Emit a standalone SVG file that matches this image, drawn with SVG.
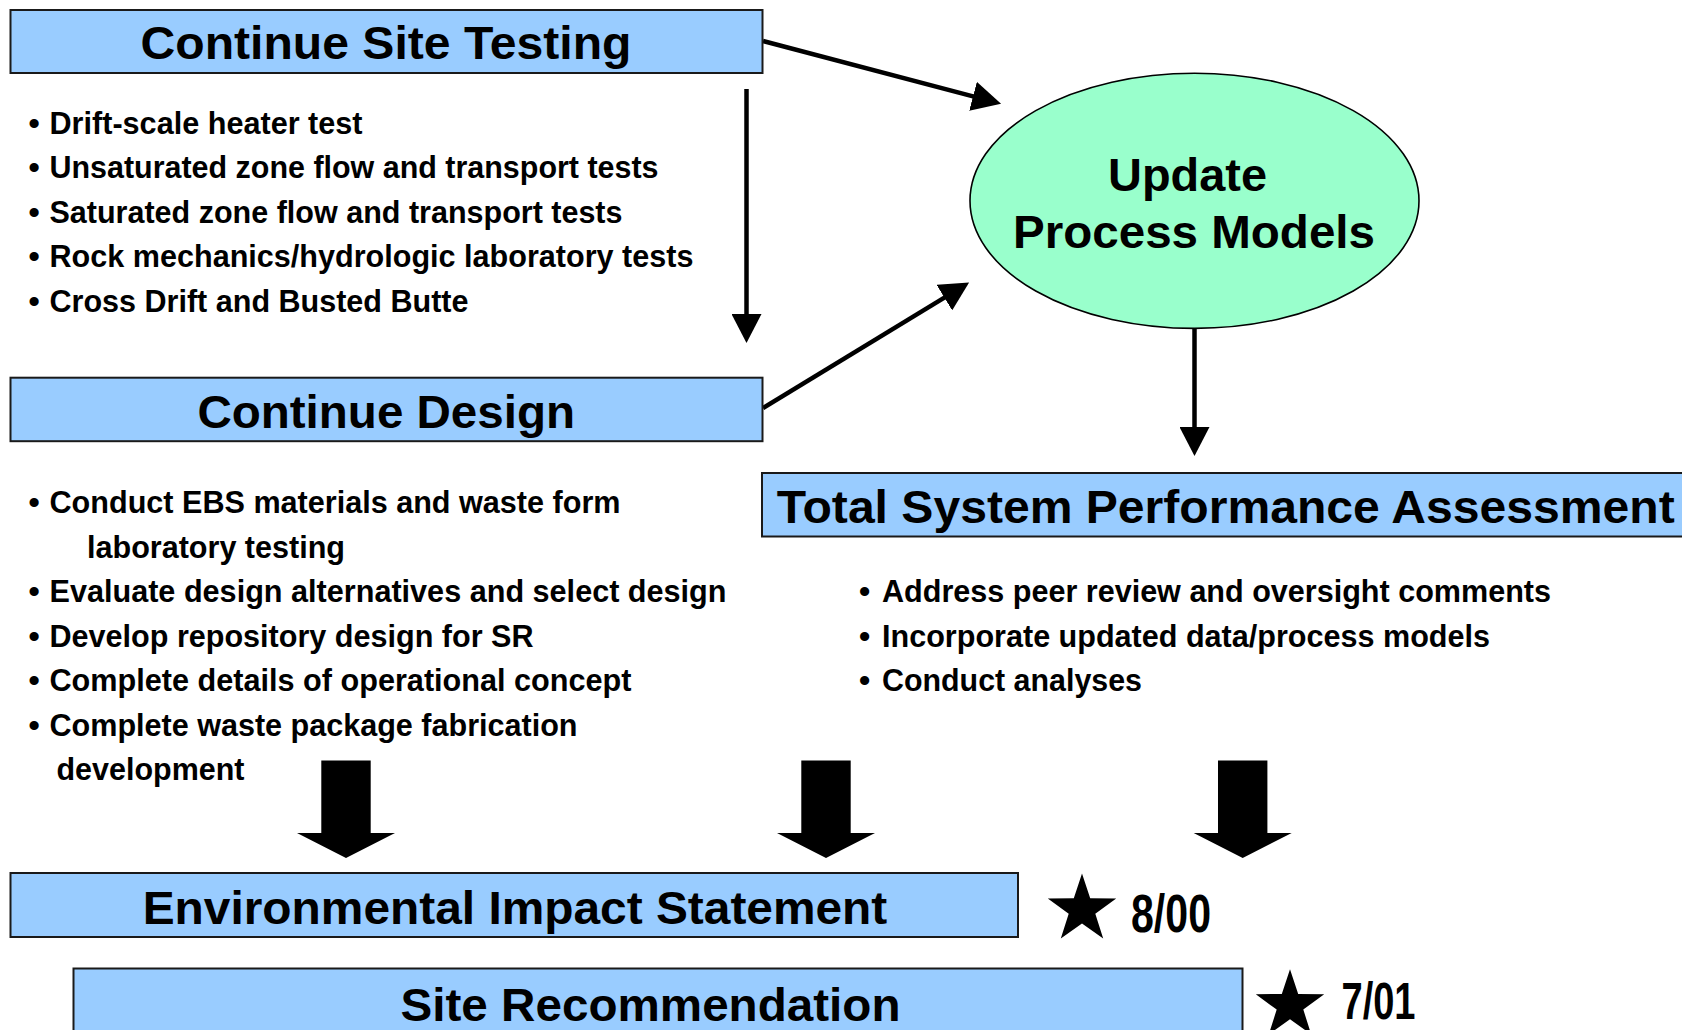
<svg xmlns="http://www.w3.org/2000/svg" width="1682" height="1030" viewBox="0 0 1682 1030">
<style>
.box{fill:#99CCFF;stroke:#1a1a1a;stroke-width:2}
.oval{fill:#99FFCC;stroke:#000;stroke-width:1.6}
.title{font-family:"Liberation Sans",Arial,sans-serif;font-weight:bold;font-size:47px;fill:#000}
.bul{font-family:"Liberation Sans",Arial,sans-serif;font-weight:bold;font-size:32px;fill:#000}
.date{font-family:"Liberation Sans",Arial,sans-serif;font-weight:bold;font-size:54px;fill:#000}
.conn{stroke:#000;stroke-width:4.5;fill:none}
.block{fill:#000}
</style>
<defs>
<marker id="ah" viewBox="0 -15 29 30" refX="1" refY="0" markerWidth="29" markerHeight="30" markerUnits="userSpaceOnUse" orient="auto">
<path d="M0,-15 L29,0 L0,15 z" fill="#000"/>
</marker>
<path id="blockArrow" d="M-24.7,0 H24.7 V72.4 H49 L0,97.4 L-49,72.4 H-24.7 Z"/>
<polygon id="star" points="0,-36 8.2,-11.3 34.2,-11.1 13.3,4.3 21.2,29.1 0,14 -21.2,29.1 -13.3,4.3 -34.2,-11.1 -8.2,-11.3"/>
</defs>

<g id="connectors">
<line class="conn" x1="763" y1="41" x2="974" y2="96.6" marker-end="url(#ah)"/>
<line class="conn" x1="763" y1="408" x2="945.2" y2="297.1" marker-end="url(#ah)"/>
<line class="conn" x1="746.5" y1="89" x2="746.5" y2="315" marker-end="url(#ah)"/>
<line class="conn" x1="1194.5" y1="328" x2="1194.5" y2="428" marker-end="url(#ah)"/>
<use href="#blockArrow" class="block" x="346" y="760.6"/>
<use href="#blockArrow" class="block" x="826" y="760.6"/>
<use href="#blockArrow" class="block" x="1242.7" y="760.6"/>
</g>

<g id="site-testing">
<rect class="box" x="10.5" y="10" width="752" height="63"/>
<text class="title" x="140.5" y="59" textLength="491" lengthAdjust="spacingAndGlyphs">Continue Site Testing</text>
</g>

<g id="site-testing-items">
<text class="bul" x="28.5" y="133.5">•</text>
<text class="bul" x="49.5" y="133.5" textLength="313" lengthAdjust="spacingAndGlyphs">Drift-scale heater test</text>
<text class="bul" x="28.5" y="178">•</text>
<text class="bul" x="49.5" y="178" textLength="609" lengthAdjust="spacingAndGlyphs">Unsaturated zone flow and transport tests</text>
<text class="bul" x="28.5" y="222.5">•</text>
<text class="bul" x="49.5" y="222.5" textLength="573" lengthAdjust="spacingAndGlyphs">Saturated zone flow and transport tests</text>
<text class="bul" x="28.5" y="267">•</text>
<text class="bul" x="49.5" y="267" textLength="644" lengthAdjust="spacingAndGlyphs">Rock mechanics/hydrologic laboratory tests</text>
<text class="bul" x="28.5" y="311.5">•</text>
<text class="bul" x="49.5" y="311.5" textLength="419" lengthAdjust="spacingAndGlyphs">Cross Drift and Busted Butte</text>
</g>

<g id="design">
<rect class="box" x="10.5" y="377.7" width="752" height="63.5"/>
<text class="title" x="197.4" y="428" textLength="377.6" lengthAdjust="spacingAndGlyphs">Continue Design</text>
</g>

<g id="design-items">
<text class="bul" x="28.5" y="513">•</text>
<text class="bul" x="49.5" y="513" textLength="571" lengthAdjust="spacingAndGlyphs">Conduct EBS materials and waste form</text>
<text class="bul" x="87" y="557.5" textLength="258" lengthAdjust="spacingAndGlyphs">laboratory testing</text>
<text class="bul" x="28.5" y="602">•</text>
<text class="bul" x="49.5" y="602" textLength="677" lengthAdjust="spacingAndGlyphs">Evaluate design alternatives and select design</text>
<text class="bul" x="28.5" y="646.5">•</text>
<text class="bul" x="49.5" y="646.5" textLength="484" lengthAdjust="spacingAndGlyphs">Develop repository design for SR</text>
<text class="bul" x="28.5" y="691">•</text>
<text class="bul" x="49.5" y="691" textLength="582" lengthAdjust="spacingAndGlyphs">Complete details of operational concept</text>
<text class="bul" x="28.5" y="735.5">•</text>
<text class="bul" x="49.5" y="735.5" textLength="528" lengthAdjust="spacingAndGlyphs">Complete waste package fabrication</text>
<text class="bul" x="56.5" y="780" textLength="188" lengthAdjust="spacingAndGlyphs">development</text>
</g>

<g id="process-models">
<ellipse class="oval" cx="1194.5" cy="200.8" rx="224.5" ry="127.6"/>
<text class="title" x="1108" y="190.5" textLength="159" lengthAdjust="spacingAndGlyphs">Update</text>
<text class="title" x="1013" y="247.5" textLength="362" lengthAdjust="spacingAndGlyphs">Process Models</text>
</g>

<g id="tspa">
<rect class="box" x="762" y="473" width="940" height="63.5"/>
<text class="title" x="776.7" y="523" textLength="898" lengthAdjust="spacingAndGlyphs">Total System Performance Assessment</text>
</g>

<g id="tspa-items">
<text class="bul" x="859" y="602">•</text>
<text class="bul" x="882" y="602" textLength="669" lengthAdjust="spacingAndGlyphs">Address peer review and oversight comments</text>
<text class="bul" x="859" y="646.5">•</text>
<text class="bul" x="882" y="646.5" textLength="608" lengthAdjust="spacingAndGlyphs">Incorporate updated data/process models</text>
<text class="bul" x="859" y="691">•</text>
<text class="bul" x="882" y="691" textLength="260" lengthAdjust="spacingAndGlyphs">Conduct analyses</text>
</g>

<g id="eis">
<rect class="box" x="10.5" y="873" width="1007.5" height="64"/>
<text class="title" x="142.7" y="924" textLength="744.6" lengthAdjust="spacingAndGlyphs">Environmental Impact Statement</text>
</g>

<g id="eis-date">
<use href="#star" x="1082" y="909.5"/>
<text class="date" x="1131" y="932" textLength="80" lengthAdjust="spacingAndGlyphs">8/00</text>
</g>

<g id="site-recommendation">
<rect class="box" x="73.5" y="968.5" width="1169" height="80"/>
<text class="title" x="400.5" y="1020.5" textLength="500" lengthAdjust="spacingAndGlyphs">Site Recommendation</text>
</g>

<g id="sr-date">
<use href="#star" x="1290" y="1005.3"/>
<text class="date" x="1341.5" y="1019" style="font-size:52px" textLength="74" lengthAdjust="spacingAndGlyphs">7/01</text>
</g>
</svg>
